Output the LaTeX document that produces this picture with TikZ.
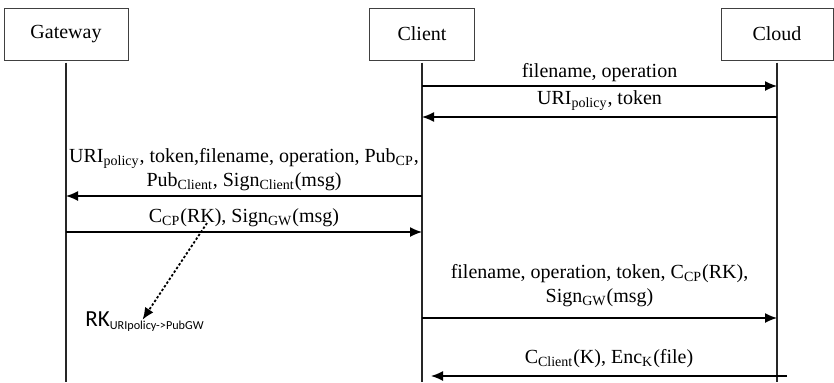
\documentclass[tikz,border=0pt]{standalone}
\usepackage{fontspec}
\setmainfont{Liberation Serif}
\newfontfamily\calibrifont{Carlito}
\usetikzlibrary{positioning,calc,arrows.meta}

\begin{document}
\begin{tikzpicture}[
        x=0.5pt, y=-0.5pt,
        actor/.style={draw=black!75, line width=0.5pt, minimum height=26pt, font=\fontsize{10}{12}\selectfont},
        life/.style={draw=black!85, line width=0.7pt},
        msg/.style={draw=black, line width=0.7pt, -{Latex[length=6pt,width=5pt]}},
        tag/.style={align=center, inner sep=2pt, font=\fontsize{10}{12}\selectfont}
      ]
      \useasboundingbox (0,0) rectangle (834,382);

      \node (GW) at (66,34) [actor, minimum width=62pt] {Gateway};
      \node (CL) at (422,34) [actor, minimum width=52.5pt] {Client};
      \node (CD) at (777,34) [actor, minimum width=56pt] {Cloud};

      % lifelines
      \coordinate (end) at (0,382);
      \foreach \n in {GW,CL,CD}
        \draw[life] ([yshift=-1pt]\n.south) -- (\n |- end);

      % message rows
      \coordinate (m1) at (0,86);
      \coordinate (m2) at (0,117);
      \coordinate (m3) at (0,196);
      \coordinate (m4) at (0,232);
      \coordinate (m5) at (0,318);
      \coordinate (m6) at (0,376);

      \draw[msg] (CL |- m1) -- node[tag, above] {filename, operation} (CD |- m1);
      \draw[msg] (CD |- m2) -- node[tag, above=1pt] {URI\textsubscript{policy}, token} (CL |- m2);
      \draw[msg] (CL |- m3) -- node[tag, above] {URI\textsubscript{policy}, token,filename, operation, Pub\textsubscript{CP},\\
          Pub\textsubscript{Client}, Sign\textsubscript{Client}(msg)} (GW |- m3);
      \draw[msg] (GW |- m4) -- node[tag, above] {C\textsubscript{CP}(RK), Sign\textsubscript{GW}(msg)} (CL |- m4);
      \draw[msg] (CL |- m5) -- node[tag, above=3pt] {filename, operation, token, C\textsubscript{CP}(RK),\\
          Sign\textsubscript{GW}(msg)} (CD |- m5);
      \draw[msg] ($(CD |- m6)+(10,0)$) -- node[tag, above=2pt] {C\textsubscript{Client}(K), Enc\textsubscript{K}(file)} ($(CL |- m6)+(9,0)$);

      % re-encryption key held by the gateway
      \coordinate (K) at (207,223);
      \node (RK) at (83,322) [anchor=west, inner sep=1pt] {\calibrifont\fontsize{11.5}{13}\selectfont RK\raisebox{-1.5pt}{\fontsize{6.1}{7}\selectfont URIpolicy->PubGW}};
      \draw[line width=0.9pt, dash pattern=on 1.2pt off 1pt, -{Latex[length=6pt,width=5pt]}] (K) -- ([xshift=-1pt,yshift=-5pt]RK.north);
    \end{tikzpicture}
\end{document}
